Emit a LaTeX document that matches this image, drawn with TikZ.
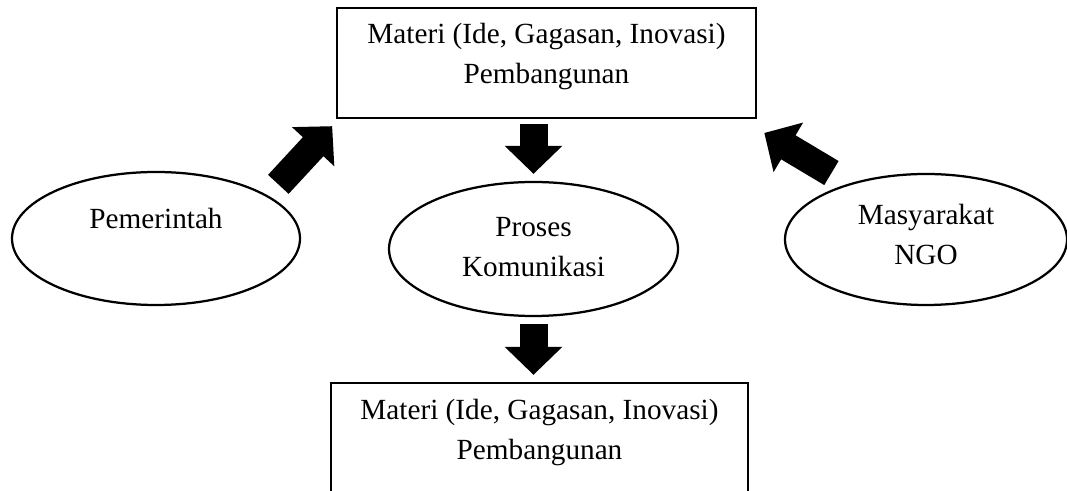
\documentclass[tikz,border=0pt]{standalone}
\usepackage{fontspec}
\setmainfont{Liberation Serif}
\usepackage{tikz}
\usetikzlibrary{arrows.meta,shapes.geometric}

\tikzset{
  box/.style={draw, line width=1.6pt, rectangle, inner sep=0pt, align=center, text depth=0.3cm},
  oval/.style={draw, line width=1.6pt, ellipse, inner sep=0pt, align=center, text depth=0.3cm},
  bigarrow/.style={line width=0.7cm, -{Triangle[length=0.7cm, width=1.4cm]}},
}

\begin{document}
\begin{tikzpicture}[font=\fontsize{20.8}{28.5}\selectfont]
            \useasboundingbox (0,0) rectangle (26.675,12.275);
            % Materi boxes
            \node[box, minimum width=10.475cm, minimum height=2.75cm, text height=1.315cm] (top) at (13.6625,10.7)
                {Materi (Ide, Gagasan, Inovasi)\\Pembangunan};
            \node[box, minimum width=10.425cm, minimum height=3.675cm, text height=0.475cm] (bot) at (13.4875,0.8625)
                {Materi (Ide, Gagasan, Inovasi)\\Pembangunan};
            
            % Actors and process
            \node[oval, minimum width=7.2cm, minimum height=3.325cm, text height=0.5cm, text depth=1.01cm] (pem) at (3.9,6.3125) {Pemerintah};
            \node[oval, minimum width=7.225cm, minimum height=3.35cm, text height=1.7cm] (proses) at (13.3375,6.05) {Proses\\Komunikasi};
            \node[oval, minimum width=7.05cm, minimum height=3.275cm, text height=1.575cm] (masy) at (23.15,6.2875) {Masyarakat\\NGO};
            
            % Block arrows
            \draw[bigarrow, shorten <=0.125cm, shorten >=0.175cm] (proses.north |- top.south) -- (proses.north);
            \draw[bigarrow, shorten <=0.175cm, shorten >=0.175cm] (proses.south) -- (proses.south |- bot.north);
            \draw[bigarrow, shorten <=0.38cm, shorten >=0.24cm] (pem.21) -- ([xshift=0.07cm]top.south west);
            \draw[bigarrow, shorten <=0.51cm, shorten >=0.675cm] (masy.144) -- ([xshift=-0.4cm]top.south east);
        \end{tikzpicture}
\end{document}
